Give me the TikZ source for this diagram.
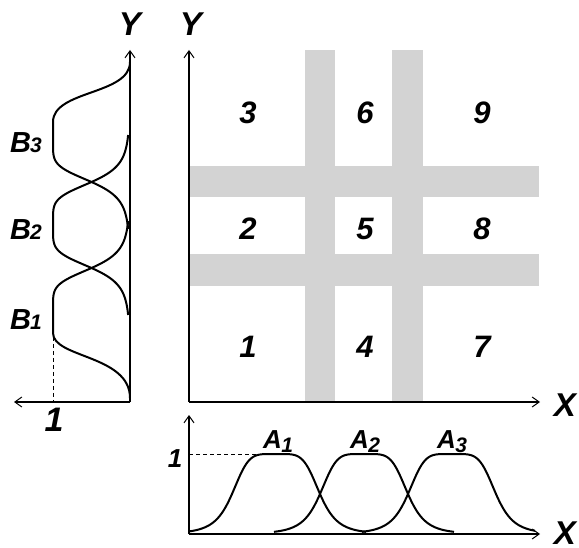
\documentclass[tikz,border=0pt]{standalone}
\usepackage{fontspec}
\setmainfont{Liberation Sans}
\usetikzlibrary{arrows.meta}
\begin{document}
\begin{tikzpicture}[x=1pt,y=-1pt,
  axis/.style={line width=1.3pt,-{Straight Barb[length=7pt,width=10pt,line width=1pt]}},
  curve/.style={line width=2pt,line join=round},
  guide/.style={line width=0.9pt,dash pattern=on 4pt off 3pt},
  num/.style={inner sep=0pt,font=\fontsize{31}{31}\selectfont\bfseries\itshape},
  axlab/.style={inner sep=0pt,font=\fontsize{33}{33}\selectfont\bfseries\itshape},
  mlab/.style={inner sep=0pt,anchor=base west}]
\definecolor{barcol}{RGB}{211,211,211}
\useasboundingbox (0,0) rectangle (579,548);
% gray bands
\fill[barcol] (305,50) rectangle (335,402);
\fill[barcol] (392,50) rectangle (423,402);
\fill[barcol] (189,166) rectangle (539,197);
\fill[barcol] (189,254) rectangle (539,286);
% coordinates
\coordinate (O) at (189,402);
\coordinate (Ytop) at (189,50);
\coordinate (Xend) at (540,402);
\coordinate (LO) at (130,402);
\coordinate (LYtop) at (130,50);
\coordinate (LXend) at (14,402);
\coordinate (BO) at (189,534);
\coordinate (BYtop) at (189,415);
\coordinate (BXend) at (540,534);
\coordinate (d1a) at (53,337);
\coordinate (d1b) at (53,402);
\coordinate (d2a) at (189,454);
\coordinate (d2b) at (260,454);
% axes
\draw[axis] (O) -- (Ytop);
\draw[axis] (O) -- (Xend);
\draw[axis] (LO) -- (LYtop);
\draw[axis] (LO) -- (LXend);
\draw[axis] (BO) -- (BYtop);
\draw[axis] (BO) -- (BXend);
\draw[guide] (d1a) -- (d1b);
\draw[guide] (d2a) -- (d2b);
% A membership functions
\draw[curve] plot[domain=190:366,samples=120,variable=\t] ({\t},{534-80/(1+pow(abs((\t-276)/44),5))});
\draw[curve] plot[domain=274:454,samples=120,variable=\t] ({\t},{534-80/(1+pow(abs((\t-364)/44),5))});
\draw[curve] plot[domain=362:535,samples=120,variable=\t] ({\t},{534-80/(1+pow(abs((\t-452)/44),5))});
% B membership functions
\draw[curve] plot[domain=221:311,samples=80,variable=\t] ({130-77/(1+pow(abs((\t-311)/43),5))},{\t})
  -- (53,333) .. controls (53,358) and (130,355) .. (130,398);
\draw[curve] plot[domain=135:315,samples=120,variable=\t] ({130-77/(1+pow(abs((\t-225)/43),5))},{\t});
\draw[curve] plot[domain=229:139,samples=80,variable=\t] ({130-77/(1+pow(abs((\t-139)/43),5))},{\t})
  -- (53,122) .. controls (53,90) and (130,95) .. (130,62);
% cell numbers
\node[num] (n1) at (248,347) {1};
\node[num] (n2) at (248,229) {2};
\node[num] (n3) at (248,113) {3};
\node[num] (n4) at (365,347) {4};
\node[num] (n5) at (365,229) {5};
\node[num] (n6) at (365,113) {6};
\node[num] (n7) at (482,347) {7};
\node[num] (n8) at (482,229) {8};
\node[num] (n9) at (482,113) {9};
% axis labels
\node[axlab] (yl) at (130,24) {Y};
\node[axlab] (yr) at (191,24) {Y};
\node[axlab] (xr) at (565,405) {X};
\node[axlab] (xb) at (565,533) {X};
\node[inner sep=0pt,font=\fontsize{34}{34}\selectfont\bfseries\itshape] (one1) at (54,420) {1};
\node[inner sep=0pt,font=\fontsize{26}{26}\selectfont\bfseries\itshape] (one2) at (175,459) {1};
% A labels
\node[mlab,font=\fontsize{26}{26}\selectfont\bfseries\itshape] (a1) at (263,448) {A\kern-0.5pt\raisebox{-5pt}{\fontsize{21}{21}\selectfont 1}};
\node[mlab,font=\fontsize{26}{26}\selectfont\bfseries\itshape] (a2) at (350,448) {A\kern-0.5pt\raisebox{-5pt}{\fontsize{21}{21}\selectfont 2}};
\node[mlab,font=\fontsize{26}{26}\selectfont\bfseries\itshape] (a3) at (437,448) {A\kern-0.5pt\raisebox{-5pt}{\fontsize{21}{21}\selectfont 3}};
% B labels
\node[mlab,font=\fontsize{29}{29}\selectfont\bfseries\itshape] (b3) at (10,153) {B\kern-1pt{\fontsize{21}{21}\selectfont 3}};
\node[mlab,font=\fontsize{29}{29}\selectfont\bfseries\itshape] (b2) at (10,240) {B\kern-1pt{\fontsize{21}{21}\selectfont 2}};
\node[mlab,font=\fontsize{29}{29}\selectfont\bfseries\itshape] (b1) at (10,330) {B\kern-1pt{\fontsize{21}{21}\selectfont 1}};
\end{tikzpicture}
\end{document}
